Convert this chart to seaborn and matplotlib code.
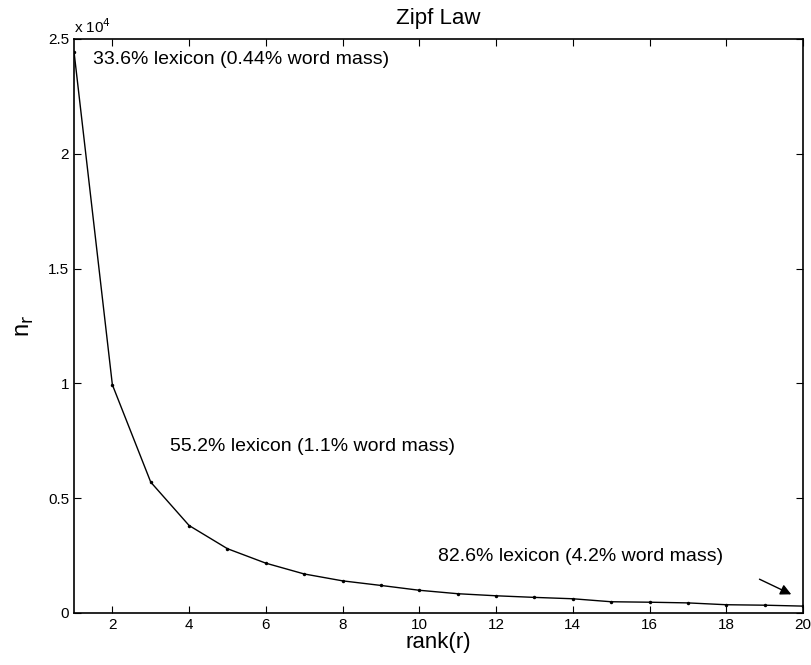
import numpy as np
import pandas as pd
import matplotlib
matplotlib.use("Agg")
import matplotlib.pyplot as plt
import seaborn as sns

# rank vs. word count
ranks = list(range(1, 21))
counts = [24450, 9940, 5700, 3810, 2800, 2170, 1700, 1400, 1200, 990,
          840, 750, 680, 620, 490, 470, 440, 360, 340, 300]

labels = ["33.6% lexicon (0.44% word mass)",
          "55.2% lexicon (1.1% word mass)",
          "82.6% lexicon (4.2% word mass)"]
label_x = [1.5, 3.5, 10.5]
label_y = [24100, 7240, 2440]

df = pd.DataFrame({"rank": ranks, "count": counts})

sns.set_style("ticks")
plt.rcParams['font.family'] = ['Liberation Sans', 'DejaVu Sans']
plt.rcParams['xtick.direction'] = 'in'
plt.rcParams['ytick.direction'] = 'in'
for k in ['text.color', 'axes.labelcolor', 'xtick.color', 'ytick.color', 'axes.edgecolor']:
    plt.rcParams[k] = 'black'

fig = plt.figure(figsize=(8.12, 6.65), dpi=100)
ax = fig.add_axes([74 / 812, 52 / 665, 729 / 812, 574 / 665])

sns.lineplot(data=df, x="rank", y="count", ax=ax, color="black", linewidth=1,
             marker="o", markersize=2.5, markeredgewidth=0)

for t, x, y in zip(labels, label_x, label_y):
    ax.text(x, y, t, fontsize=14, va="center", ha="left")

ax.annotate("", xy=(19.76, 760), xytext=(18.8, 1525),
            arrowprops=dict(arrowstyle="-|>", color="black", lw=1, mutation_scale=16))

ax.set_xlim(1, 20)
ax.set_ylim(0, 25000)
ax.set_xticks([2, 4, 6, 8, 10, 12, 14, 16, 18, 20])
ax.set_yticks([0, 5000, 10000, 15000, 20000, 25000])
ax.set_yticklabels(["0", "0.5", "1", "1.5", "2", "2.5"])
ax.tick_params(top=True, right=True, labelsize=11, length=5, width=0.8)
for s in ax.spines.values():
    s.set_visible(True)
    s.set_linewidth(1.2)

ax.text(0.0, 1.005, "x 10$^4$", transform=ax.transAxes, fontsize=11, va="bottom", ha="left")
ax.set_title("Zipf Law", fontsize=16, pad=11)
ax.set_xlabel("rank(r)", fontsize=16, labelpad=0)
ax.set_ylabel("n$_\\mathrm{r}$", fontsize=17, labelpad=9)

fig.savefig("out.png", dpi=100)
